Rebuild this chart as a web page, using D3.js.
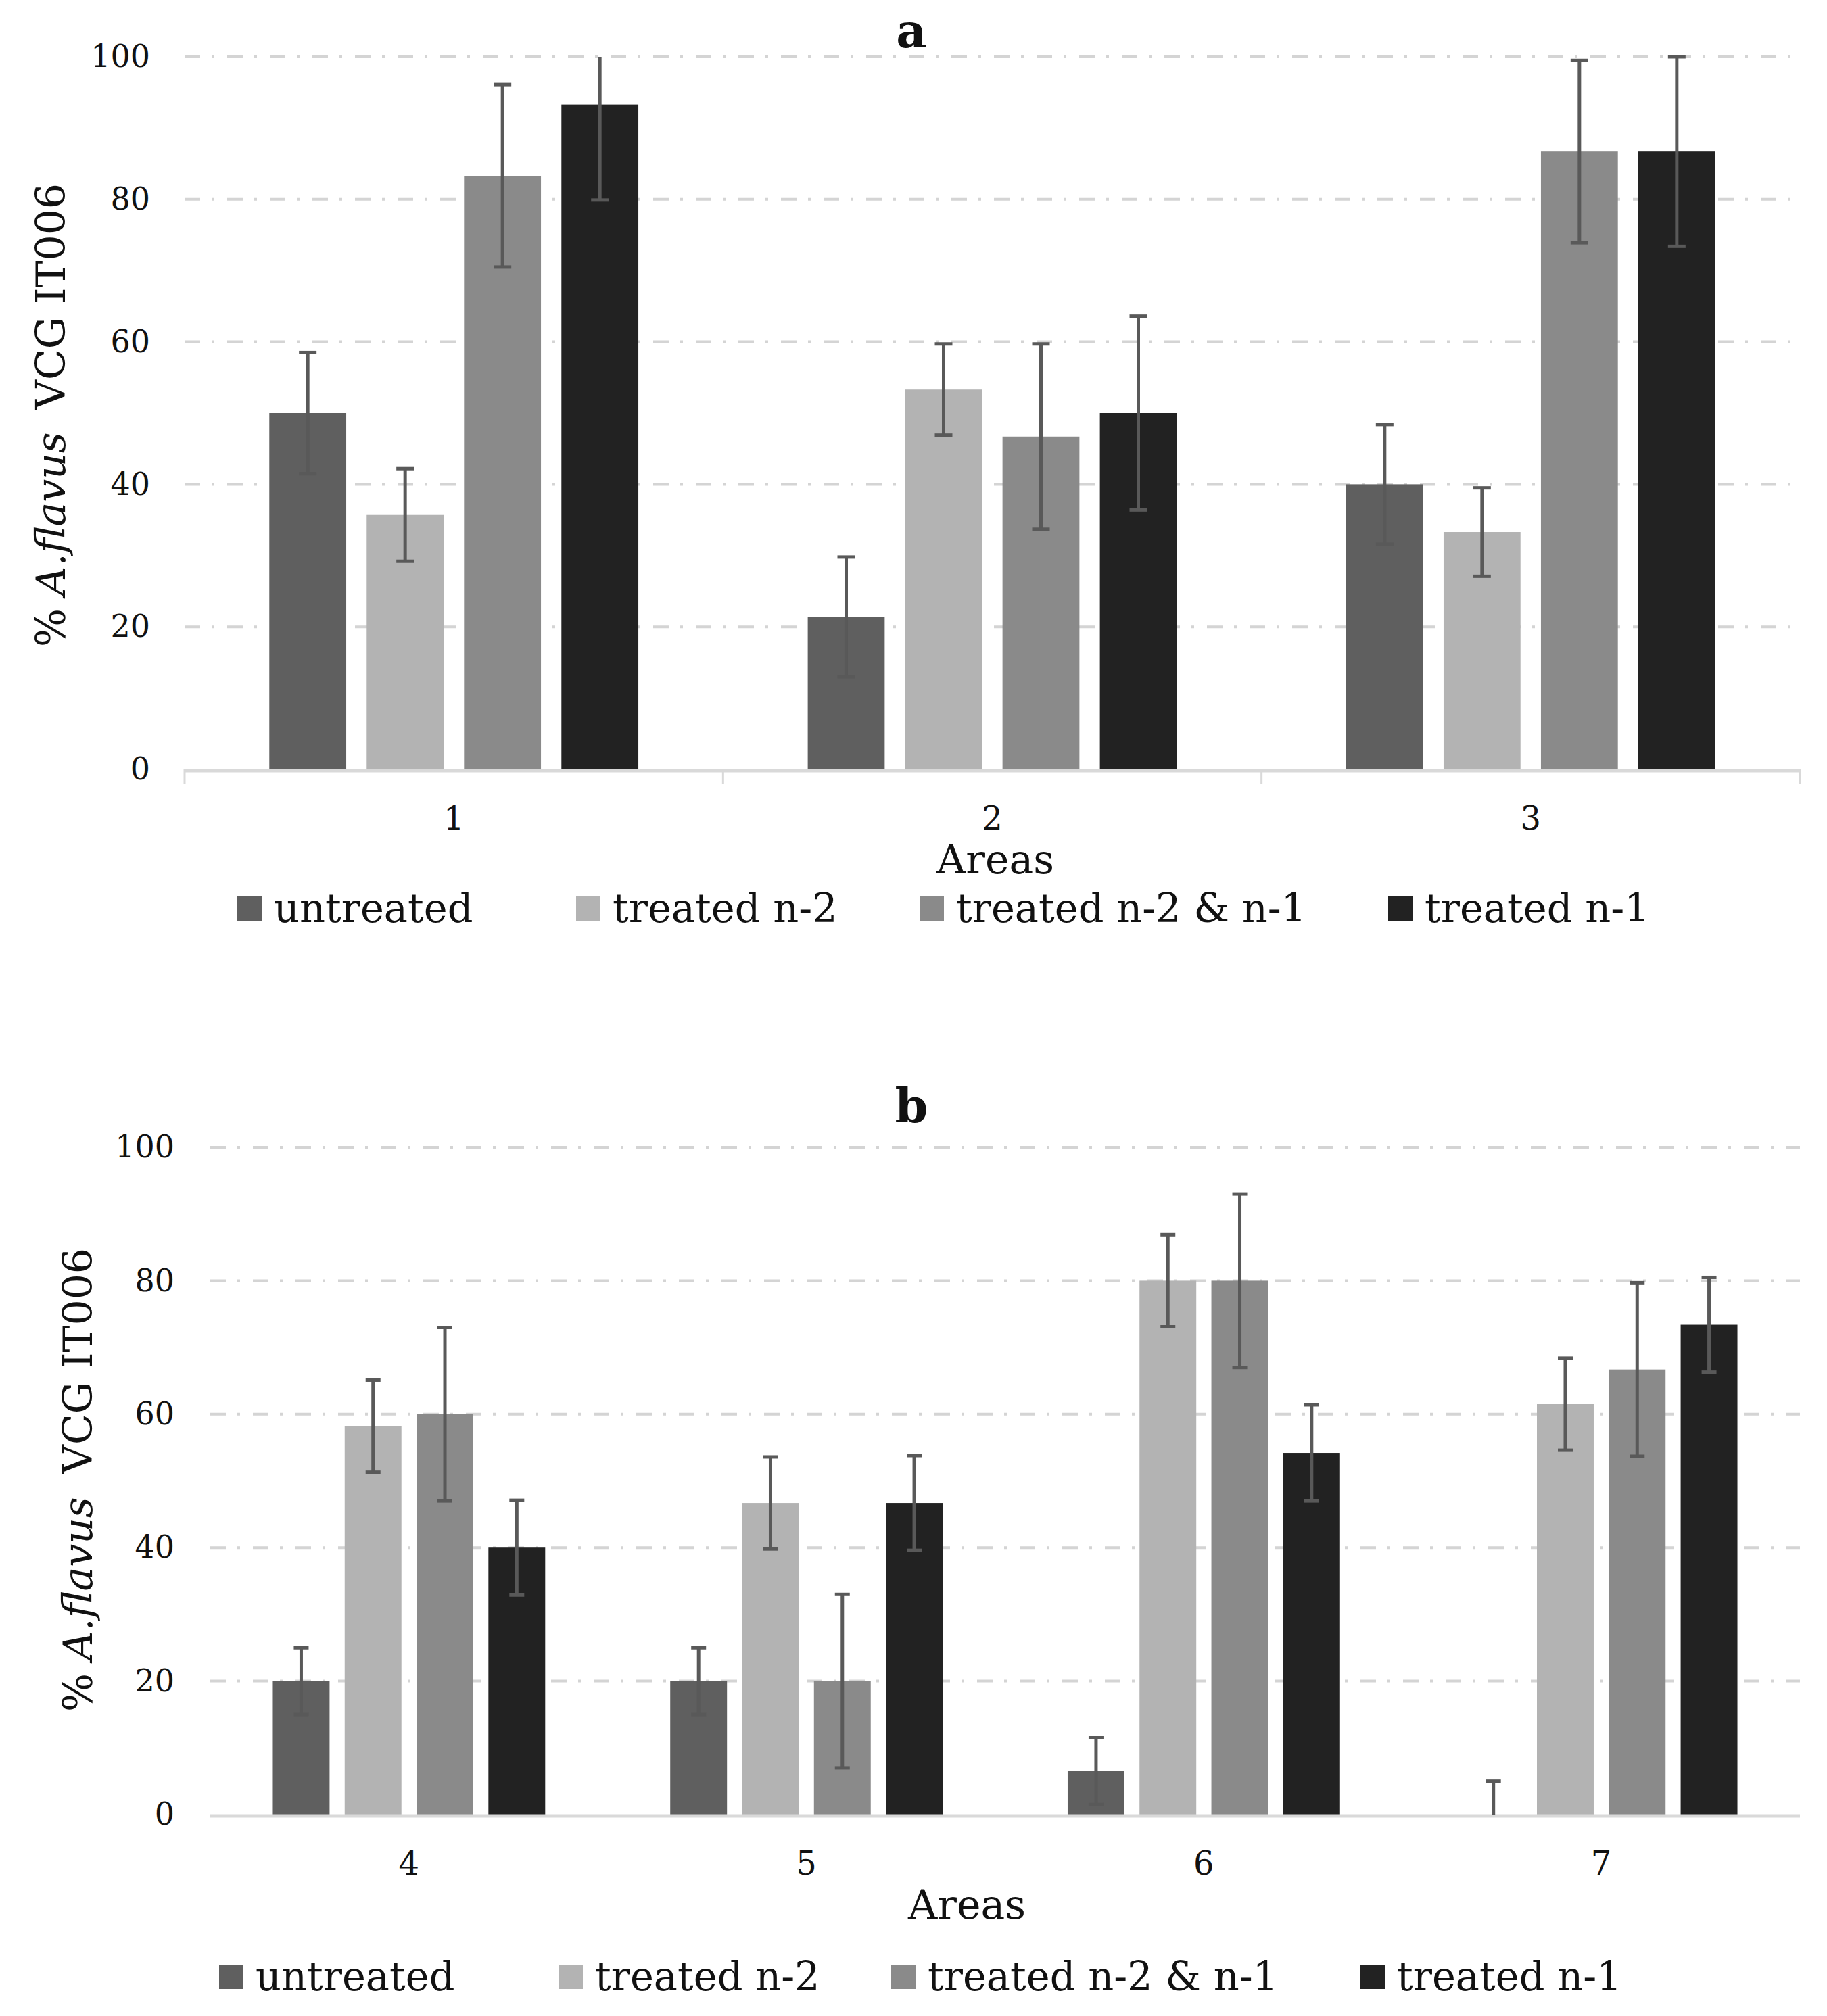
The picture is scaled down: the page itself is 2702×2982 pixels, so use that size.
<!DOCTYPE html>
<html>
  <head>
    <meta charset="utf-8">
    <script type="text/javascript" src="https://cdn.jsdelivr.net/npm/d3@7"></script>
    <style>
      body { margin: 0; background: #fff; }
      text { font-family: "DejaVu Serif", serif; fill: #111; }
    </style>
  </head>
  <body>
    <script type="text/javascript">
      // Series (legend order) and their grey fills
      var series = ["untreated", "treated n-2", "treated n-2 & n-1", "treated n-1"];
      var seriesColors = ["#5f5f5f", "#b3b3b3", "#8a8a8a", "#222222"];
      var yTicks = [0, 20, 40, 60, 80, 100];

      // Panel a: areas 1-3, one array per series (mean %) and its error
      var areasA = ["1", "2", "3"];
      var untreatedA = [50, 21.4, 40];
      var treatedN2A = [35.7, 53.3, 33.3];
      var treatedBothA = [83.3, 46.7, 86.7];
      var treatedN1A = [93.3, 50, 86.7];
      var untreatedErrA = [8.5, 8.4, 8.4];
      var treatedN2ErrA = [6.5, 6.4, 6.2];
      var treatedBothErrA = [12.8, 13, 12.8];
      var treatedN1ErrA = [13.4, 13.6, 13.3];

      // Panel b: areas 4-7
      var areasB = ["4", "5", "6", "7"];
      var untreatedB = [20, 20, 6.5, 0];
      var treatedN2B = [58.2, 46.7, 80, 61.5];
      var treatedBothB = [60, 20, 80, 66.7];
      var treatedN1B = [40, 46.7, 54.2, 73.4];
      var untreatedErrB = [5, 5, 5, 5];
      var treatedN2ErrB = [6.9, 6.9, 6.9, 6.9];
      var treatedBothErrB = [13, 13, 13, 13];
      var treatedN1ErrB = [7.1, 7.1, 7.2, 7.1];

      var width = 2702;
      var height = 2982;
      var svg = d3.select("body")
                  .append("svg")
                  .attr("width", width)
                  .attr("height", height);

      svg.append("rect")
         .attr("width", width)
         .attr("height", height)
         .attr("fill", "#fff");

      // Build rows of {area, series, value, err} from the arrays
      function makeRows(areas, values, errs) {
        var rows = [];
        areas.forEach(function(a, i) {
          series.forEach(function(s, j) {
            rows.push({ area: a, series: s, value: values[j][i], err: errs[j][i] });
          });
        });
        return rows;
      }

      function drawPanel(p) {
        var g = svg.append("g");

        var x0 = d3.scaleBand()
                   .domain(p.areas)
                   .range([p.left, p.right]);
        var x1 = d3.scaleBand()
                   .domain(series)
                   .range([0, x0.bandwidth()])
                   .paddingInner(0.21)
                   .paddingOuter(0.87);
        var y = d3.scaleLinear()
                  .domain([0, 100])
                  .range([p.bottom, p.top]);
        var color = d3.scaleOrdinal().domain(series).range(seriesColors);

        // Gridlines
        g.selectAll(".grid")
         .data(yTicks.filter(function(t) { return t > 0; }))
         .enter()
         .append("line")
         .attr("x1", p.left)
         .attr("x2", p.right)
         .attr("y1", function(d) { return y(d); })
         .attr("y2", function(d) { return y(d); })
         .attr("stroke", "#d4d4d4")
         .attr("stroke-width", 4)
         .attr("stroke-dasharray", "23,17,4,19");

        // Bars
        var rows = makeRows(p.areas, p.values, p.errs);
        g.selectAll(".bar")
         .data(rows)
         .enter()
         .append("rect")
         .attr("x", function(d) { return x0(d.area) + x1(d.series); })
         .attr("y", function(d) { return y(d.value); })
         .attr("width", x1.bandwidth())
         .attr("height", function(d) { return y(0) - y(d.value); })
         .attr("fill", function(d) { return color(d.series); });

        // Axis line and category boundary ticks
        g.append("line")
         .attr("x1", p.left)
         .attr("x2", p.right)
         .attr("y1", y(0) + 2)
         .attr("y2", y(0) + 2)
         .attr("stroke", "#d9d9d9")
         .attr("stroke-width", 5);
        if (p.boundaryTicks) {
          var bounds = p.areas.map(function(a) { return x0(a); }).concat([p.right]);
          g.selectAll(".btick")
           .data(bounds)
           .enter()
           .append("line")
           .attr("x1", function(d) { return d; })
           .attr("x2", function(d) { return d; })
           .attr("y1", y(0))
           .attr("y2", y(0) + 22)
           .attr("stroke", "#d9d9d9")
           .attr("stroke-width", 3);
        }

        // Error bars, clipped to 0..100 (no cap where clipped)
        var half = p.cap / 2;
        var eb = g.selectAll(".err")
                  .data(rows)
                  .enter()
                  .append("g")
                  .attr("stroke", "#595959")
                  .attr("stroke-width", 5);
        function cx(d) { return x0(d.area) + x1(d.series) + x1.bandwidth() / 2; }
        eb.append("line")
          .attr("x1", cx)
          .attr("x2", cx)
          .attr("y1", function(d) { return y(Math.min(100, d.value + d.err)); })
          .attr("y2", function(d) { return y(Math.max(0, d.value - d.err)); });
        eb.filter(function(d) { return d.value + d.err <= 100; })
          .append("line")
          .attr("x1", function(d) { return cx(d) - half; })
          .attr("x2", function(d) { return cx(d) + half; })
          .attr("y1", function(d) { return y(d.value + d.err); })
          .attr("y2", function(d) { return y(d.value + d.err); });
        eb.filter(function(d) { return d.value - d.err >= 0; })
          .append("line")
          .attr("x1", function(d) { return cx(d) - half; })
          .attr("x2", function(d) { return cx(d) + half; })
          .attr("y1", function(d) { return y(d.value - d.err); })
          .attr("y2", function(d) { return y(d.value - d.err); });

        // Y axis tick labels
        var yAxis = d3.axisLeft(y)
                      .tickValues(yTicks)
                      .tickSize(0)
                      .tickPadding(p.left - p.tickRight);
        var ya = g.append("g")
                  .attr("transform", "translate(" + p.left + ",0)")
                  .call(yAxis);
        ya.select(".domain").remove();
        ya.selectAll("text")
          .attr("font-size", p.tickSize)
          .attr("font-family", "DejaVu Serif")
          .attr("fill", "#111");

        // X axis category labels
        var xAxis = d3.axisBottom(x0)
                      .tickSize(0)
                      .tickPadding(p.xLabelPad);
        var xa = g.append("g")
                  .attr("transform", "translate(0," + y(0) + ")")
                  .call(xAxis);
        xa.select(".domain").remove();
        xa.selectAll("text")
          .attr("font-size", 48)
          .attr("font-family", "DejaVu Serif")
          .attr("fill", "#111");

        // Title
        g.append("text")
         .text(p.title)
         .attr("x", 1348)
         .attr("y", p.titleY)
         .attr("text-anchor", "middle")
         .attr("font-size", 70)
         .attr("font-weight", "bold");

        // Axis titles
        g.append("text")
         .text("Areas")
         .attr("x", p.areasX)
         .attr("y", p.areasY)
         .attr("text-anchor", "middle")
         .attr("font-size", 60);

        var yl = g.append("text")
                  .attr("transform", "translate(" + p.yLabelX + "," + p.yLabelY + ") rotate(-90)")
                  .attr("text-anchor", "middle")
                  .attr("font-size", 60);
        yl.append("tspan").text("% ");
        yl.append("tspan").text("A.flavus").attr("font-style", "italic");
        yl.append("tspan").text("VCG IT006").attr("dx", 34);

        // Legend
        var leg = g.selectAll(".leg")
                   .data(series)
                   .enter()
                   .append("g")
                   .attr("transform", function(d, i) { return "translate(" + p.legendX[i] + "," + p.legendY + ")"; });
        leg.append("rect")
           .attr("x", 0)
           .attr("y", -38)
           .attr("width", 36)
           .attr("height", 36)
           .attr("fill", function(d) { return color(d); });
        leg.append("text")
           .text(function(d) { return d; })
           .attr("x", 54)
           .attr("y", 0)
           .attr("font-size", 59);
      }

      drawPanel({
        title: "a", titleY: 70,
        areas: areasA,
        values: [untreatedA, treatedN2A, treatedBothA, treatedN1A],
        errs: [untreatedErrA, treatedN2ErrA, treatedBothErrA, treatedN1ErrA],
        left: 273, right: 2662, top: 84, bottom: 1138,
        tickRight: 222, tickSize: 46, xLabelPad: 55, boundaryTicks: true, cap: 26,
        areasX: 1472, areasY: 1292,
        yLabelX: 96, yLabelY: 614,
        legendX: [351, 852, 1360, 2053], legendY: 1364
      });

      drawPanel({
        title: "b", titleY: 1660,
        areas: areasB,
        values: [untreatedB, treatedN2B, treatedBothB, treatedN1B],
        errs: [untreatedErrB, treatedN2ErrB, treatedBothErrB, treatedN1ErrB],
        left: 311, right: 2662, top: 1697, bottom: 2684,
        tickRight: 258, tickSize: 46, xLabelPad: 55, boundaryTicks: false, cap: 22,
        areasX: 1430, areasY: 2838,
        yLabelX: 136, yLabelY: 2189,
        legendX: [324, 826, 1318, 2012], legendY: 2944
      });
    </script>
  </body>
</html>
